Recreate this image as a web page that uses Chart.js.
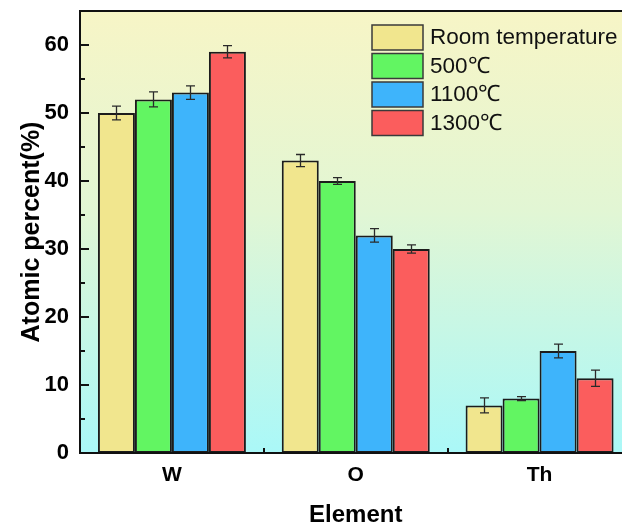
<!DOCTYPE html>
<html>
<head>
<meta charset="utf-8">
<script src="https://cdn.jsdelivr.net/npm/chart.js@4/dist/chart.umd.min.js"></script>
<style>
  html, body { margin: 0; padding: 0; background: #ffffff; overflow: hidden; }
  #wrap { width: 640px; height: 527px; }
</style>
</head>
<body>
<div id="wrap"><canvas id="c" width="640" height="527"></canvas></div>
<script>
// Elements on the x axis
const categories = ['W', 'O', 'Th'];

// Series labels (sample treatment)
const seriesLabels = ['Room temperature', '500\u2103', '1100\u2103', '1300\u2103'];

// Atomic percent per element, one array per treatment
const roomTemp = [50, 43, 7];
const temp500  = [52, 40, 8];
const temp1100 = [53, 32, 15];
const temp1300 = [59, 30, 11];

// Standard deviation for each bar
const roomTempErr = [1.0, 0.9, 1.1];
const temp500Err  = [1.1, 0.5, 0.3];
const temp1100Err = [1.0, 1.0, 1.0];
const temp1300Err = [0.9, 0.6, 1.2];

// Y axis tick labels
const yTickLabels = ['0', '10', '20', '30', '40', '50', '60'];

const fillColors = ['#f1e68e', '#62f562', '#3eb4fb', '#fb5d5d'];
const values = [roomTemp, temp500, temp1100, temp1300];
const errors = [roomTempErr, temp500Err, temp1100Err, temp1300Err];

const datasets = values.map((v, i) => ({
  label: seriesLabels[i],
  data: v,
  errors: errors[i],
  backgroundColor: fillColors[i],
  borderColor: '#1c1c1c',
  borderWidth: 2,
  borderSkipped: false,
  categoryPercentage: 0.805,
  barPercentage: 1.0
}));

const FONT = '"Liberation Sans", Arial, sans-serif';

// Gradient plot background
const backgroundPlugin = {
  id: 'plotBackground',
  beforeDatasetsDraw(chart) {
    const { ctx, chartArea: a } = chart;
    const g = ctx.createLinearGradient(0, a.top, 0, a.bottom);
    g.addColorStop(0, '#f7f5c6');
    g.addColorStop(0.45, '#e2f6d4');
    g.addColorStop(1, '#aaf8f8');
    ctx.save();
    ctx.fillStyle = g;
    ctx.fillRect(a.left, a.top, a.right - a.left, a.bottom - a.top);
    ctx.restore();
  }
};

// Error bars with caps, drawn on top of each bar
const errorBarPlugin = {
  id: 'errorBars',
  afterDatasetsDraw(chart) {
    const { ctx } = chart;
    const y = chart.scales.y;
    ctx.save();
    ctx.strokeStyle = '#2a2a2a';
    ctx.lineWidth = 1.3;
    chart.data.datasets.forEach((ds, di) => {
      const meta = chart.getDatasetMeta(di);
      meta.data.forEach((bar, i) => {
        const v = ds.data[i], e = ds.errors[i];
        const yHi = y.getPixelForValue(v + e);
        const yLo = y.getPixelForValue(v - e);
        const x = Math.round(bar.x) + 0.5;
        ctx.beginPath();
        ctx.moveTo(x, yHi); ctx.lineTo(x, yLo);
        ctx.moveTo(x - 4.5, yHi); ctx.lineTo(x + 4.5, yHi);
        ctx.moveTo(x - 4.5, yLo); ctx.lineTo(x + 4.5, yLo);
        ctx.stroke();
      });
    });
    ctx.restore();
  }
};

// Frame, axis tick marks and legend
const framePlugin = {
  id: 'frameAndLegend',
  afterDraw(chart) {
    const { ctx, chartArea: a } = chart;
    const y = chart.scales.y, x = chart.scales.x;
    ctx.save();
    ctx.strokeStyle = '#111';
    ctx.lineWidth = 2;
    ctx.strokeRect(a.left, a.top, a.right - a.left, a.bottom - a.top);

    // y ticks: major inward at 10s, minor at 5s
    ctx.beginPath();
    for (let v = 0; v <= 60; v += 5) {
      const py = Math.round(y.getPixelForValue(v));
      const len = (v % 10 === 0) ? 9 : 5;
      ctx.moveTo(a.left, py); ctx.lineTo(a.left + len, py);
    }
    // x ticks: short inward marks between categories
    for (let i = 0; i < categories.length - 1; i++) {
      const px = Math.round((x.getPixelForValue(i) + x.getPixelForValue(i + 1)) / 2);
      ctx.moveTo(px, a.bottom); ctx.lineTo(px, a.bottom - 5);
    }
    ctx.stroke();

    // legend
    const sx = 372, sw = 51, sh = 25, tops = [25, 53.5, 82, 110.5];
    ctx.font = '22.5px ' + FONT;
    ctx.textBaseline = 'middle';
    ctx.textAlign = 'left';
    chart.data.datasets.forEach((ds, i) => {
      ctx.fillStyle = ds.backgroundColor;
      ctx.fillRect(sx, tops[i], sw, sh);
      ctx.lineWidth = 1.5;
      ctx.strokeStyle = '#3a3a3a';
      ctx.strokeRect(sx, tops[i], sw, sh);
      ctx.fillStyle = '#111';
      ctx.fillText(ds.label, 430, tops[i] + sh / 2 + 0.5);
    });
    ctx.restore();
  }
};

new Chart(document.getElementById('c'), {
  type: 'bar',
  data: { labels: categories, datasets },
  options: {
    responsive: false,
    animation: false,
    layout: { padding: { top: 11, right: 8.5, left: 0, bottom: 0 } },
    plugins: { legend: { display: false }, tooltip: { enabled: false } },
    scales: {
      x: {
        offset: true,
        grid: { display: false },
        border: { display: false },
        ticks: { color: '#000', font: { family: FONT, size: 21, weight: 'bold' }, padding: 2 },
        title: { display: true, text: 'Element', color: '#000',
                 font: { family: FONT, size: 24, weight: 'bold', lineHeight: 1 },
                 padding: { top: 0, bottom: 0 } },
        afterFit(s) { s.height = 74; s.paddingLeft = 0; s.paddingRight = 0; }
      },
      y: {
        min: 0, max: 65,
        grid: { display: false },
        border: { display: false },
        ticks: {
          stepSize: 5, autoSkip: false, color: '#000',
          font: { family: FONT, size: 22, weight: 'bold' }, padding: 3,
          callback: (v) => (v % 10 === 0 && v <= 60) ? yTickLabels[v / 10] : ''
        },
        title: { display: true, text: 'Atomic percent(%)', color: '#000',
                 font: { family: FONT, size: 25, weight: 'bold', lineHeight: 1 },
                 padding: { top: 20, bottom: 0 } },
        afterFit(s) { s.width = 80; s.paddingTop = 0; s.paddingBottom = 0; }
      }
    }
  },
  plugins: [backgroundPlugin, errorBarPlugin, framePlugin]
});
</script>
</body>
</html>
